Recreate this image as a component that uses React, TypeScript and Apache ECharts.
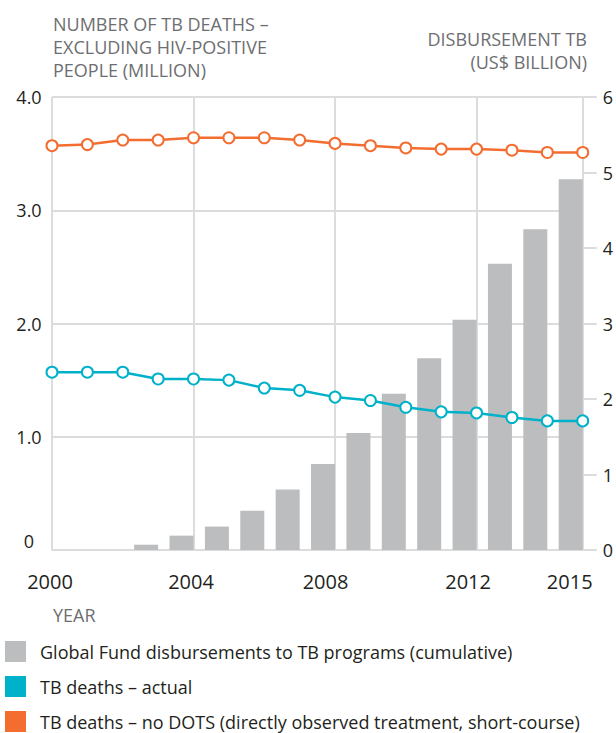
import React, { useEffect, useRef } from "react";
import * as echarts from "echarts";

const years = ["2000","2001","2002","2003","2004","2005","2006","2007","2008","2009","2010","2011","2012","2013","2014","2015"];
const shownYears = ["2000", "2004", "2008", "2012", "2015"];
const deathsNoDots = [3.57, 3.58, 3.62, 3.62, 3.64, 3.64, 3.64, 3.62, 3.59, 3.57, 3.55, 3.54, 3.54, 3.53, 3.51, 3.51];
const deathsActual = [1.57, 1.57, 1.57, 1.51, 1.51, 1.5, 1.43, 1.41, 1.35, 1.32, 1.26, 1.22, 1.21, 1.17, 1.14, 1.14];
const disbursements = [0, 0, 0, 0.07, 0.19, 0.31, 0.52, 0.8, 1.14, 1.55, 2.07, 2.54, 3.05, 3.79, 4.25, 4.91];
const seriesNames = [
  "Global Fund disbursements to TB programs (cumulative)",
  "TB deaths – actual",
  "TB deaths – no DOTS (directly observed treatment, short-course)",
];
const leftTitle = "NUMBER OF TB DEATHS –\nEXCLUDING HIV-POSITIVE\nPEOPLE (MILLION)";
const rightTitle = "DISBURSEMENT TB\n(US$ BILLION)";
const xTitle = "YEAR";

const GRAY = "#bcbdbf";
const TEAL = "#00b1ca";
const ORANGE = "#f36d31";
const GRID = "#dcdcdc";
const TITLE = "#6d6e71";
const INK = "#231f20";
const FONT = "Open Sans";
const legendColors = [GRAY, TEAL, ORANGE];
// per-label shift (px, leftwards) of the x-axis year labels, as in the reference layout
const labelShift: Record<string, number> = { "2000": 2, "2004": 2.5, "2008": 9.5, "2012": 8.5, "2015": 13 };

export default function App() {
  const ref = useRef<HTMLDivElement>(null);
  useEffect(() => {
    const chart = echarts.init(ref.current!, null, { renderer: "svg" });
    const showIdx = (i: number) => shownYears.includes(years[i]);
    const rich: Record<string, any> = {};
    shownYears.forEach((y) => {
      rich["y" + y] = { fontSize: 20, fontFamily: FONT, color: INK, padding: [0, labelShift[y] * 2, 0, 0] };
    });
    const legendGraphics: any[] = [];
    seriesNames.forEach((name, i) => {
      legendGraphics.push({
        type: "rect",
        left: 5,
        top: 641 + i * 35,
        shape: { width: 21, height: 21 },
        style: { fill: legendColors[i] },
      });
      legendGraphics.push({
        type: "text",
        x: 40,
        y: 651.5 + i * 35,
        style: { text: name, fontSize: 18, fill: INK, fontFamily: FONT, verticalAlign: "middle" },
      });
    });
    chart.setOption({
      animation: false,
      textStyle: { fontFamily: FONT },
      grid: { left: 52, right: 32, top: 97, bottom: 183 },
      graphic: [
        {
          type: "text",
          x: 53,
          y: 12,
          style: { text: leftTitle, fontSize: 18, lineHeight: 23, fill: TITLE, fontFamily: FONT },
        },
        {
          type: "text",
          x: 587,
          y: 27,
          style: { text: rightTitle, fontSize: 18, lineHeight: 23, fill: TITLE, fontFamily: FONT, align: "right" },
        },
        {
          type: "text",
          x: 53,
          y: 606,
          style: { text: xTitle, fontSize: 18, fill: TITLE, fontFamily: FONT },
        },
        ...legendGraphics,
      ],
      xAxis: {
        type: "category",
        data: years,
        boundaryGap: false,
        axisLine: { show: true, lineStyle: { color: GRID, width: 2 } },
        axisTick: { show: false },
        axisLabel: {
          interval: (i: number) => showIdx(i),
          margin: 21,
          fontSize: 20,
          color: INK,
          fontFamily: FONT,
          formatter: (v: string) => `{y${v}|${v}}`,
          rich,
        },
        splitLine: { show: true, interval: (i: number) => showIdx(i), lineStyle: { color: GRID, width: 2 } },
      },
      yAxis: [
        {
          type: "value",
          min: 0,
          max: 4,
          interval: 1,
          axisLine: { show: false },
          axisTick: { show: false },
          axisLabel: {
            margin: 23,
            align: "center",
            fontSize: 18,
            color: INK,
            fontFamily: FONT,
            formatter: (v: number) => (v === 0 ? "{z|0}" : v.toFixed(1)),
            rich: { z: { fontSize: 18, fontFamily: FONT, color: INK, padding: [0, 0, 18, 0] } },
          },
          splitLine: { show: true, lineStyle: { color: GRID, width: 2 } },
        },
        {
          type: "value",
          min: 0,
          max: 6,
          interval: 1,
          axisLine: { show: true, lineStyle: { color: GRID, width: 2 } },
          axisTick: { show: true, length: 14, lineStyle: { color: GRID, width: 2 } },
          axisLabel: { margin: 20, fontSize: 18, color: INK, fontFamily: FONT },
          splitLine: { show: false },
        },
      ],
      series: [
        {
          name: seriesNames[0],
          type: "bar",
          yAxisIndex: 1,
          data: disbursements,
          barWidth: 24,
          barGap: 0,
          itemStyle: { color: GRAY },
          z: 1,
        },
        {
          name: "spacer",
          type: "bar",
          yAxisIndex: 1,
          data: [],
          barWidth: 24,
          barGap: 0,
        },
        {
          name: seriesNames[1],
          type: "line",
          data: deathsActual,
          color: TEAL,
          symbol: "emptyCircle",
          symbolSize: 11,
          lineStyle: { color: TEAL, width: 2.5 },
          itemStyle: { color: TEAL, borderWidth: 2.5 },
          z: 3,
        },
        {
          name: seriesNames[2],
          type: "line",
          data: deathsNoDots,
          color: ORANGE,
          symbol: "emptyCircle",
          symbolSize: 11,
          lineStyle: { color: ORANGE, width: 2.5 },
          itemStyle: { color: ORANGE, borderWidth: 2.5 },
          z: 3,
        },
      ],
    });
    return () => chart.dispose();
  }, []);
  return (
    <div
      ref={ref}
      style={{ position: "fixed", left: 0, top: 0, width: 616, height: 733, background: "#fff" }}
    />
  );
}
